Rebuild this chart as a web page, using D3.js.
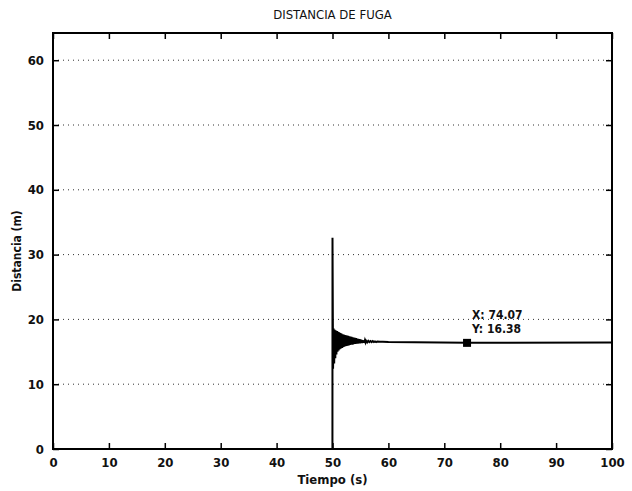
<!DOCTYPE html>
<html>
<head>
<meta charset="utf-8">
<script src="https://cdn.jsdelivr.net/npm/d3@7"></script>
<style>
  body { margin: 0; background: #fff; }
  text { font-family: "DejaVu Sans", sans-serif; font-stretch: condensed; fill: #111; }
</style>
</head>
<body>
<div id="chart"></div>
<script>
// data
var xTicks = [0, 10, 20, 30, 40, 50, 60, 70, 80, 90, 100];
var yTicks = [0, 10, 20, 30, 40, 50, 60];

// time (s) and distance (m) of the signal
var tiempo = [0, 49.99, 50.0,
  50.1, 50.2, 50.3, 50.4, 50.5, 50.6, 50.7, 50.8, 50.9, 51.0,
  51.1, 51.2, 51.3, 51.4, 51.5, 51.6, 51.7, 51.8, 51.9, 52.0,
  52.1, 52.2, 52.3, 52.4, 52.5, 52.6, 52.7, 52.8, 52.9, 53.0,
  53.1, 53.2, 53.3, 53.4, 53.5, 53.6, 53.7, 53.8, 53.9, 54.0,
  54.1, 54.2, 54.3, 54.4, 54.5, 54.6, 54.7, 54.8, 54.9, 55.0,
  55.1, 55.2, 55.3, 55.4, 55.5, 55.6, 55.7, 55.8, 55.9, 56.0,
  56.2, 56.4, 56.6, 56.8, 57.0, 57.2, 57.4, 57.6, 57.8, 58.0,
  58.5, 59.0, 60, 74.07, 100];
var distancia = [0, 0, 32.6,
  12.4, 18.6, 13.2, 18.4, 14.0, 18.3, 14.6, 18.2, 15.0, 18.1,
  15.2, 18.0, 15.4, 17.9, 15.5, 17.8, 15.6, 17.7, 15.7, 17.65,
  15.8, 17.6, 15.85, 17.55, 15.9, 17.5, 15.95, 17.45, 16.0, 17.4,
  16.05, 17.35, 16.1, 17.3, 16.1, 17.25, 16.15, 17.2, 16.2, 17.15,
  16.2, 17.1, 16.25, 17.05, 16.25, 17.0, 16.3, 16.95, 16.3, 16.9,
  16.35, 16.85, 16.35, 16.8, 16.4, 16.75, 16.4, 16.75, 16.45, 16.7,
  16.45, 16.7, 16.5, 16.65, 16.5, 16.65, 16.5, 16.6, 16.5, 16.6,
  16.55, 16.55, 16.5, 16.38, 16.45];

var tipX = 74.07, tipY = 16.38;

var W = 632, H = 491;
var margin = { left: 53, right: 20, top: 33, bottom: 42 };
var width = W - margin.left - margin.right;
var height = H - margin.top - margin.bottom;

var svg = d3.select("#chart").append("svg").attr("width", W).attr("height", H);

var x_scale = d3.scaleLinear().domain([0, 100]).range([0, width]);
var y_scale = d3.scaleLinear().domain([0, 64.2]).range([height, 0]);

var chart = svg.append("g").attr("transform", "translate(" + margin.left + "," + margin.top + ")");

// dotted horizontal grid
chart.selectAll(".grid")
  .data(yTicks.slice(1))
  .enter()
  .append("line")
  .attr("x1", 0).attr("x2", width)
  .attr("y1", function (d) { return y_scale(d); })
  .attr("y2", function (d) { return y_scale(d); })
  .style("stroke", "#333")
  .style("stroke-width", 1)
  .style("stroke-dasharray", "1,4");

// signal
var line = d3.line()
  .x(function (d, i) { return x_scale(tiempo[i]); })
  .y(function (d) { return y_scale(d); });

chart.append("path")
  .datum(distancia)
  .attr("d", line)
  .style("fill", "none")
  .style("stroke", "#000")
  .style("stroke-width", 2);

// data tip
chart.append("rect")
  .attr("x", x_scale(tipX) - 4).attr("y", y_scale(tipY) - 4)
  .attr("width", 8).attr("height", 8)
  .style("fill", "#000");
chart.append("text")
  .attr("x", x_scale(tipX) + 5).attr("y", y_scale(tipY) - 24)
  .style("font-size", "12px").style("font-weight", "bold")
  .text("X: " + tipX.toFixed(2));
chart.append("text")
  .attr("x", x_scale(tipX) + 5).attr("y", y_scale(tipY) - 10)
  .style("font-size", "12px").style("font-weight", "bold")
  .text("Y: " + tipY.toFixed(2));

// axes (ticks inside, on all four sides)
var x_axis = d3.axisBottom(x_scale).tickValues(xTicks).tickSizeInner(-6).tickSizeOuter(0).tickPadding(9);
var y_axis = d3.axisLeft(y_scale).tickValues(yTicks).tickSizeInner(-6).tickSizeOuter(0).tickPadding(9);
var x_top = d3.axisTop(x_scale).tickValues(xTicks).tickSizeInner(-6).tickSizeOuter(0).tickFormat("");
var y_right = d3.axisRight(y_scale).tickValues(yTicks).tickSizeInner(-6).tickSizeOuter(0).tickFormat("");

var gx = chart.append("g").attr("transform", "translate(0," + height + ")").call(x_axis);
var gy = chart.append("g").call(y_axis);
var gt = chart.append("g").call(x_top);
var gr = chart.append("g").attr("transform", "translate(" + width + ",0)").call(y_right);

[gx, gy, gt, gr].forEach(function (g) {
  g.select(".domain").remove();
  g.selectAll("line").style("stroke", "#000").style("stroke-width", 1.5);
  g.selectAll("text").style("font-size", "13px").style("font-weight", "bold")
    .style("font-family", "'DejaVu Sans', sans-serif").style("font-stretch", "condensed").style("fill", "#111");
});

// box
chart.append("rect")
  .attr("x", 0).attr("y", 0).attr("width", width).attr("height", height)
  .style("fill", "none").style("stroke", "#000").style("stroke-width", 2);

// labels
svg.append("text")
  .attr("text-anchor", "middle")
  .attr("x", margin.left + width / 2).attr("y", 19)
  .style("font-size", "13px")
  .text("DISTANCIA DE FUGA");
svg.append("text")
  .attr("text-anchor", "middle")
  .attr("x", margin.left + width / 2).attr("y", 484)
  .style("font-size", "13px").style("font-weight", "bold")
  .text("Tiempo (s)");
svg.append("text")
  .attr("text-anchor", "middle")
  .attr("transform", "translate(21," + (margin.top + height / 2 + 10) + ") rotate(-90)")
  .style("font-size", "12px").style("font-weight", "bold")
  .text("Distancia (m)");
</script>
</body>
</html>
